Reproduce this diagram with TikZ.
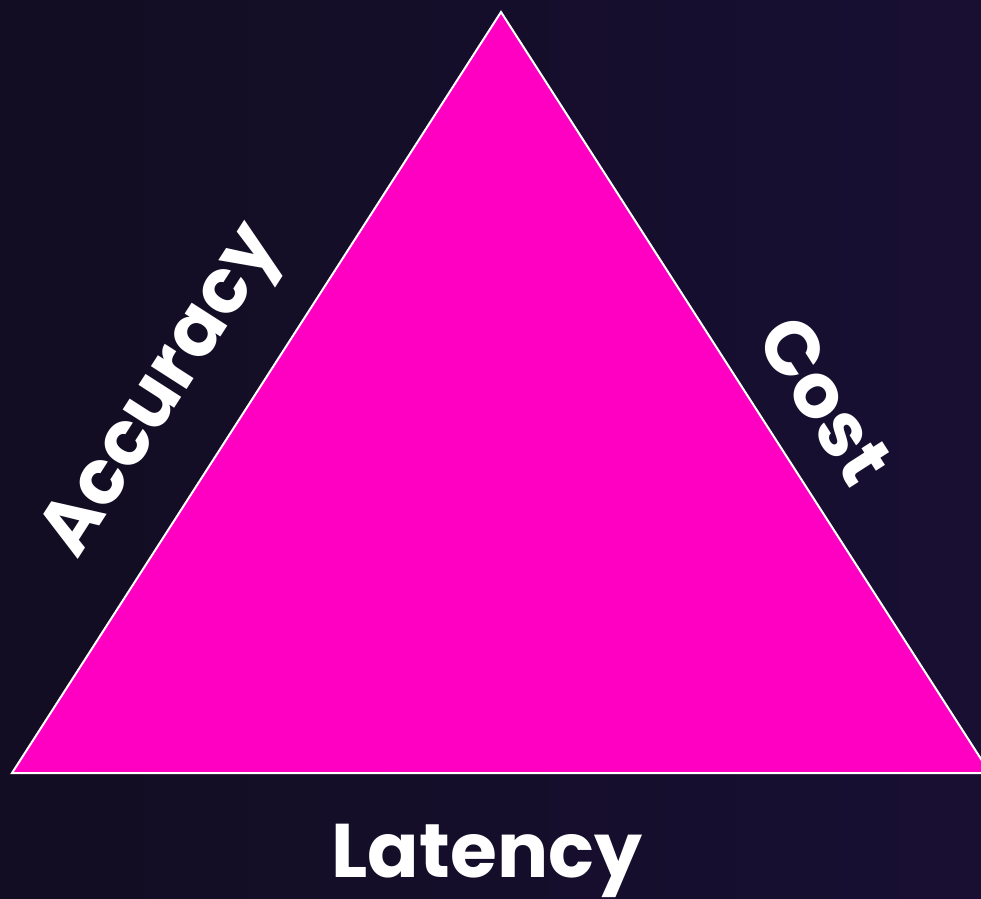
\documentclass[tikz,border=0pt]{standalone}
\usepackage{fontspec}
\setmainfont{Poppins}[UprightFont=* Bold]
\usetikzlibrary{positioning}

\definecolor{bgleft}{HTML}{120D22}
\definecolor{bgright}{HTML}{180F33}
\definecolor{tripink}{HTML}{FF00C3}

\tikzset{
	side/.style={text=white, font=\fontsize{76}{76}\selectfont, inner sep=0pt},
	base/.style={text=white, font=\fontsize{76}{76}\selectfont, inner sep=0pt}
}

\begin{document}
\begin{tikzpicture}[x=1pt, y=-1pt]
	\shade[left color=bgleft, right color=bgright] (0,0) rectangle (981,898);
	\useasboundingbox (0,0) rectangle (981,898);
	\clip (0,0) rectangle (981,898);

	\coordinate (top)   at (501,12);
	\coordinate (left)  at (12,773);
	\coordinate (right) at (990,773);

	\draw[white, line width=2pt, fill=tripink, line join=miter] (top) -- (left) -- (right) -- cycle;

	\node[side, rotate=57.3]  (acc)  at (165,393) {Accuracy};
	\node[side, rotate=-57.3] (cost) at (825,400) {Cost};
	\node[base] (lat) at (487,861) {Latency};
\end{tikzpicture}
\end{document}
